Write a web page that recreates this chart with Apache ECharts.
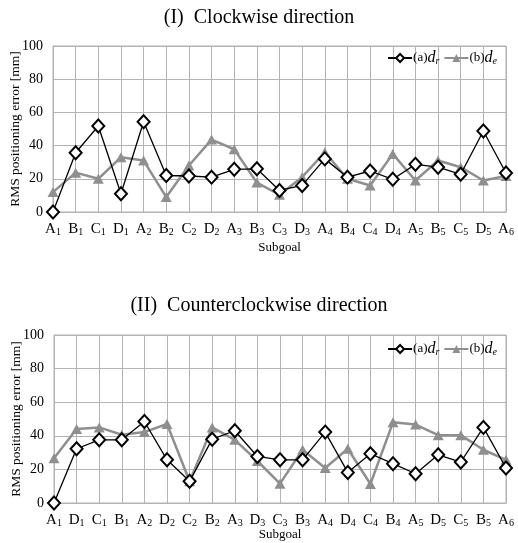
<!DOCTYPE html>
<html><head><meta charset="utf-8">
<script src="https://cdn.jsdelivr.net/npm/echarts@6/dist/echarts.min.js"></script>
<style>html,body{margin:0;padding:0;background:#fff}#c{width:518px;height:543px}</style>
</head><body><div id="c"></div>
<script>
const cat1 = ['A1','B1','C1','D1','A2','B2','C2','D2','A3','B3','C3','D3','A4','B4','C4','D4','A5','B5','C5','D5','A6'];
const dr1 = [0,35.7,51.8,11,54.4,22,21.7,21,25.7,26,13,16,32,21,24.7,19.7,28.7,27,22.7,48.8,23.5];
const de1 = [12,23.7,20,33,31,9,28,43.6,37.8,17.7,10.4,21,36,20,16,35,19,31,27,19,21.7];
const cat2 = ['A1','D1','C1','B1','A2','D2','C2','B2','A3','D3','C3','B3','A4','D4','C4','B4','A5','D5','C5','B5','A6'];
const dr2 = [0,32.3,37.6,37.6,48.5,25.7,12.9,38,43,27.7,25.7,25.7,42.2,18.2,29.3,23.4,17.4,28.7,24.4,45,20.8];
const de2 = [26.7,44,45,40.6,42.2,47,12.9,45,37.6,25,11.5,31.7,20.8,32.3,11.3,48,46.7,40.4,40.4,31.7,25.7];
const yTicks = [0,20,40,60,80,100];
const titles = ['(I)  Clockwise direction','(II)  Counterclockwise direction'];

const FONT = 'Liberation Serif';
const GRID = '#b3b3b3';
const GRAY = '#8f8f8f';
const chart = echarts.init(document.getElementById('c'));

function catFmt(v){ return '{m|' + v.charAt(0) + '}{s|' + v.slice(1) + '}'; }
const catRich = { m:{fontFamily:FONT,fontSize:15,color:'#000',lineHeight:18,verticalAlign:'bottom'},
                  s:{fontFamily:FONT,fontSize:10,color:'#000',lineHeight:18,verticalAlign:'bottom',padding:[5,0,0,0]} };

function xAx(i, cats){
  return {type:'category', gridIndex:i, data:cats, boundaryGap:false,
    name:'Subgoal', nameLocation:'middle', nameGap: i===0?29:25, nameMoveOverlap:false,
    nameTextStyle:{fontFamily:FONT,fontSize:13,color:'#000'},
    axisLine:{lineStyle:{color:GRID,width:1}}, axisTick:{show:false},
    splitLine:{show:true,lineStyle:{color:GRID,width:1}},
    axisLabel:{formatter:catFmt, rich:catRich, margin:7, interval:0}};
}
function yAx(i){
  return {type:'value', gridIndex:i, min:yTicks[0], max:yTicks[yTicks.length-1], interval:20,
    name:'RMS positioning error [mm]', nameLocation:'middle', nameGap:31, nameMoveOverlap:false,
    nameTextStyle:{fontFamily:FONT,fontSize:13.5,color:'#000'},
    axisLine:{show:true,lineStyle:{color:GRID}}, axisTick:{show:false},
    splitLine:{show:true,lineStyle:{color:GRID,width:1}},
    axisLabel:{fontFamily:FONT,fontSize:14,color:'#000',margin:10}};
}
function ser(name, i, d){
  if(name==='dr') return {name:'dr', type:'line', xAxisIndex:i, yAxisIndex:i, data:d, z:3,
    symbol:'diamond', symbolSize:[12,13], showAllSymbol:true,
    lineStyle:{color:'#000',width:1.3},
    itemStyle:{color:'#fff',borderColor:'#000',borderWidth:2}};
  return {name:'de', type:'line', xAxisIndex:i, yAxisIndex:i, data:d, z:2,
    symbol:'triangle', symbolSize:[11,10], showAllSymbol:true,
    lineStyle:{color:GRAY,width:2.5},
    itemStyle:{color:GRAY,borderColor:GRAY,borderWidth:0}};
}
const legFmt = n => n==='dr' ? '{t|(a)}{i|d}{s|r}' : '{t|(b)}{i|d}{s|e}';
const legRich = { t:{fontFamily:FONT,fontSize:13,color:'#000'},
                  i:{fontFamily:FONT,fontSize:16,fontStyle:'italic',color:'#000'},
                  s:{fontFamily:FONT,fontSize:10,fontStyle:'italic',color:'#000',padding:[6,0,0,0]} };
function leg(top){
  return {top:top, right:16, itemGap:4, itemWidth:24, itemHeight:10, data:['dr','de'],
    formatter:legFmt, textStyle:{rich:legRich, padding:[0,0,0,-4]}};
}

chart.setOption({
  animation:false,
  title:[
    {text:titles[0], left:'center', top:3, textStyle:{fontFamily:FONT,fontSize:20,fontWeight:'normal',color:'#000'}},
    {text:titles[1], left:'center', top:291, textStyle:{fontFamily:FONT,fontSize:20,fontWeight:'normal',color:'#000'}}
  ],
  legend:[leg(45), leg(336)],
  grid:[
    {left:53, right:12, top:46, height:166, show:true, borderColor:GRID, borderWidth:1, outerBoundsMode:'none', containLabel:false},
    {left:54, right:12, top:335, height:168, show:true, borderColor:GRID, borderWidth:1, outerBoundsMode:'none', containLabel:false}
  ],
  xAxis:[xAx(0,cat1), xAx(1,cat2)],
  yAxis:[yAx(0), yAx(1)],
  series:[ser('dr',0,dr1), ser('de',0,de1), ser('dr',1,dr2), ser('de',1,de2)]
});
</script></body></html>
